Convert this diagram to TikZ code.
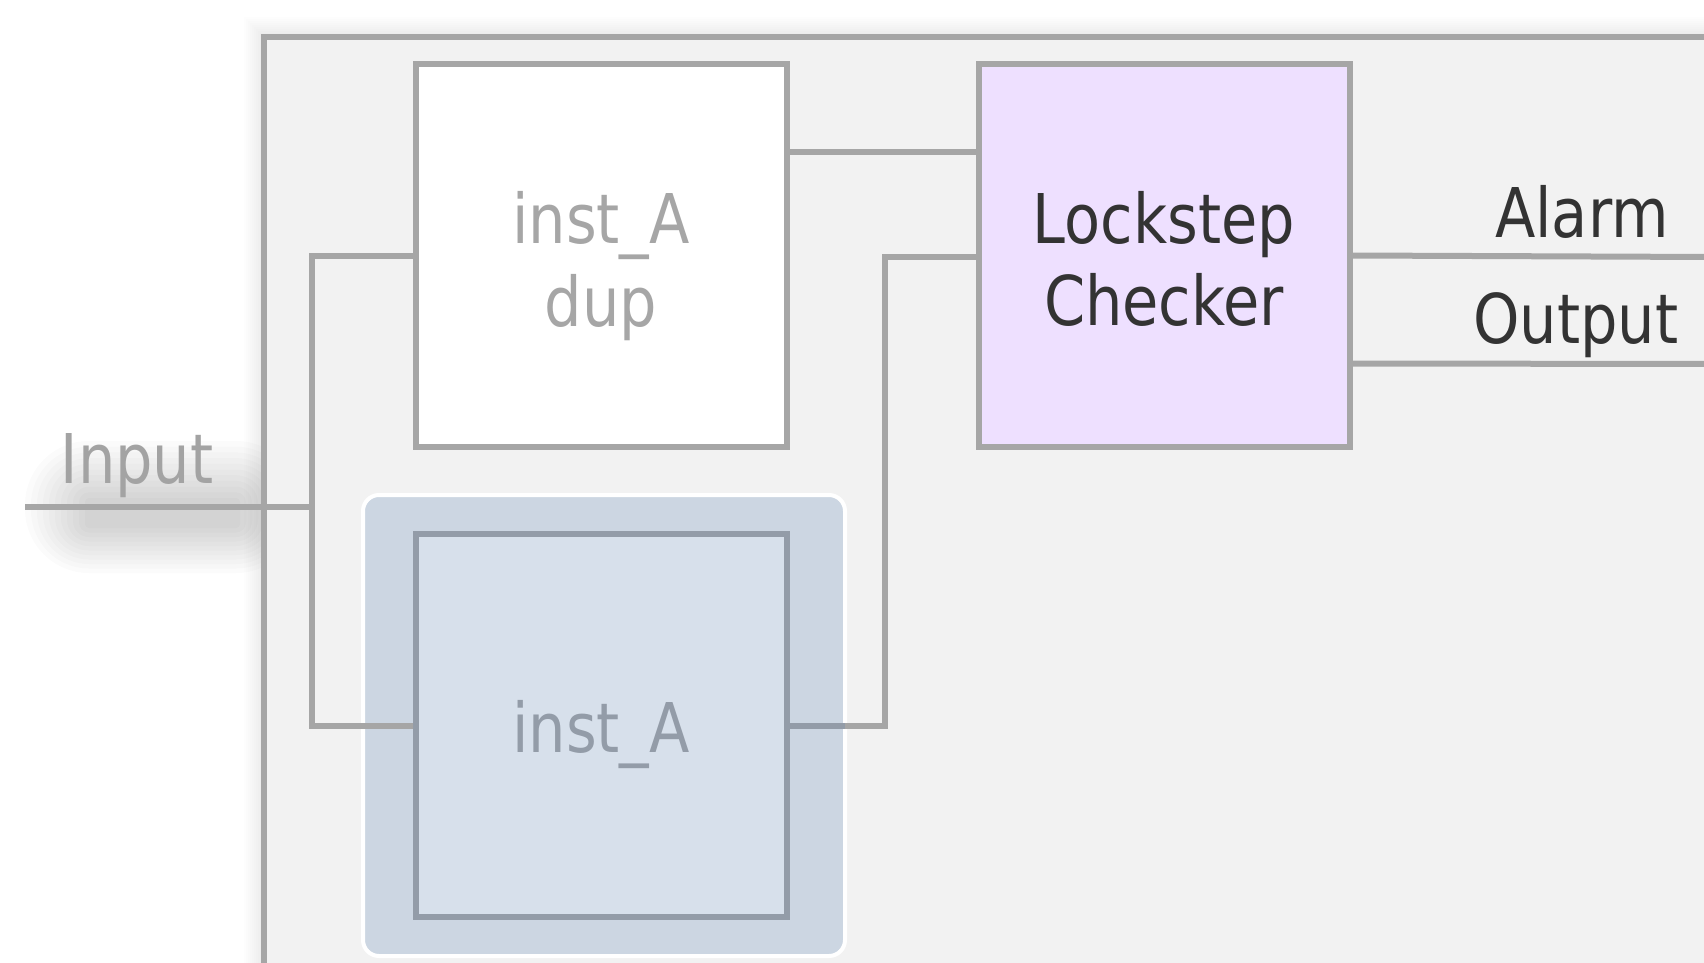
\documentclass[tikz,border=0pt]{standalone}
\usepackage{fontspec}
\setmainfont{DejaVu Sans}[FakeStretch=0.86]
\usetikzlibrary{calc}

\definecolor{wirecol}{HTML}{A6A6A6}
\definecolor{panelfill}{HTML}{F2F2F2}
\definecolor{checkfill}{HTML}{EEE0FF}
\definecolor{groupfill}{HTML}{CCD6E2}
\definecolor{innerfill}{HTML}{D7E0EB}
\definecolor{innerline}{HTML}{939CA8}
\definecolor{darktext}{HTML}{333333}
\definecolor{lighttext}{HTML}{A3A3A3}

\begin{document}
\begin{tikzpicture}[x=0.5pt,y=-0.5pt,
  wire/.style={draw=wirecol, line width=3pt},
  blockbox/.style={shape=rectangle, draw=wirecol, line width=3pt,
    minimum width=185.5pt, minimum height=191.5pt, inner sep=0pt},
  txt/.style={font=\fontsize{34.3pt}{41pt}\selectfont, inner sep=0pt, anchor=base},
]
% page frame
\useasboundingbox (0,0) rectangle (1704,963);
\clip (0,0) rectangle (1704,963);
\fill[white] (0,0) rectangle (1704,963);

% soft glow behind the input port: stacked translucent rounded boxes
\foreach \d in {0,6,...,60}
  \fill[black, opacity=0.017, rounded corners=\d*0.5pt+2pt]
    (85-\d,498-\d*0.95) rectangle (240+\d,528+\d*0.75);

% faint shadow around the system panel
\foreach \d in {2,4,...,20}
  \fill[black, opacity=0.007] (264-\d,37-\d) rectangle (1900,1120);

% enclosing system panel
\draw[draw=wirecol, line width=3pt, fill=panelfill]
  (264,37) rectangle (1900,1120);

% highlighted group around the primary instance
\node[shape=rectangle, fill=groupfill, draw=white, line width=2pt,
      rounded corners=8pt, minimum width=241pt, minimum height=230.5pt,
      inner sep=0pt] (grp) at (604,725.5) {};

% blocks
\node[blockbox, fill=white] (dup) at (601,255.5) {};
\node[blockbox, fill=checkfill] (chk) at (1164.5,255.5) {};
\node[blockbox, draw=innerline, fill=innerfill] (inA) at (601.5,725.5) {};

% port coordinates
\coordinate (inStart) at (25,507);
\coordinate (j) at (312,507);
\coordinate (k) at (885,257);
\coordinate (alarmEnd) at (1710,257);
\coordinate (outEnd) at (1710,364);

% wiring
\draw[wire] (inStart) -- (j);
\draw[wire] (dup.west) -| (j) |- (inA.west);
\draw[wire] ($(dup.north east)+(0,91)$) -- ($(chk.north west)+(0,91)$);
\draw[wire] (inA.east) -| (k) -- (k -| chk.west);
\draw[wire] (chk.east) -- (alarmEnd);
\draw[wire] ($(chk.east)+(0,108)$) -- (outEnd);
\draw[draw=innerline, line width=3pt] (inA.east) -- ($(grp.east)+(-2,0)$);

% labels
\node[txt, text=lighttext] (inLbl) at (137,483) {Input};
\node[txt, text=wirecol] (dupT1) at (601,243) {inst\_A};
\node[txt, text=wirecol] (dupT2) at (601,326) {dup};
\node[txt, text=innerline] (inAT) at (601,752) {inst\_A};
\node[txt, text=darktext] (chkT1) at (1164,243) {Lockstep};
\node[txt, text=darktext] (chkT2) at (1164,325) {Checker};
\node[txt, text=darktext] (alarmLbl) at (1582,237) {Alarm};
\node[txt, text=darktext] (outLbl) at (1576,343) {Output};
\end{tikzpicture}
\end{document}
